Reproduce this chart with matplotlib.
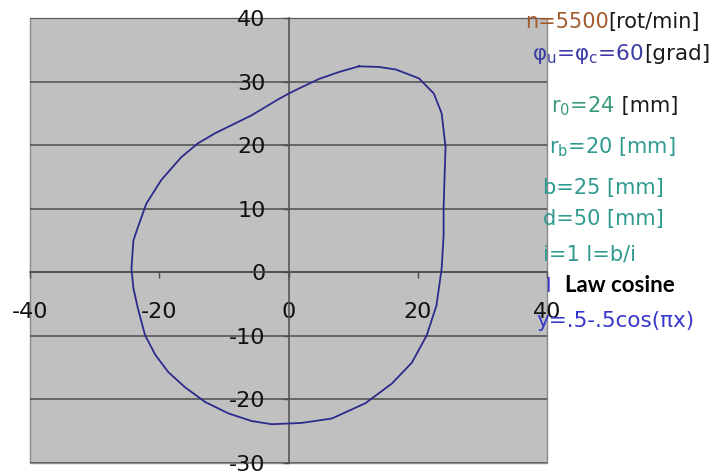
import matplotlib
matplotlib.use("Agg")
import matplotlib.pyplot as plt
from matplotlib.ticker import FixedLocator

plt.rcParams['font.family'] = ['DejaVu Sans']
plt.rcParams['mathtext.fontset'] = 'dejavusans'

# Cam profile points (x, y) in mm
profile_x = [10.9, 7.8, 4.7, 1.6, 0.0, -1.6, -5.7, -11.3, -14.0, -16.6, -19.7,
             -22.0, -23.3, -24.0, -24.3, -24.0, -23.3, -22.2, -20.6, -18.6, -16.0,
             -12.9, -9.3, -5.7, -2.6, 2.0, 6.7, 11.9, 16.0, 19.1, 21.4, 22.9,
             23.7, 24.0, 24.0, 24.3, 23.7, 22.5, 20.2, 16.6, 14.0, 10.9]
profile_y = [32.4, 31.5, 30.4, 28.9, 28.1, 27.2, 24.7, 21.9, 20.3, 18.1, 14.5,
             10.8, 7.1, 5.0, 0.6, -2.5, -5.7, -9.9, -13.0, -15.7, -18.1,
             -20.4, -22.2, -23.4, -23.9, -23.7, -23.0, -20.6, -17.5, -14.2, -9.9, -5.2,
             0.6, 5.8, 10.2, 19.7, 25.0, 28.1, 30.5, 31.9, 32.3, 32.4]

x_ticks = [-40, -20, 0, 20, 40]
y_ticks = [-30, -20, -10, 0, 10, 20, 30, 40]

W, H = 714, 475
fig = plt.figure(figsize=(W / 100, H / 100), dpi=100)
fig.patch.set_facecolor('white')

ax = fig.add_axes([30 / W, (H - 463) / H, 517 / W, 445 / H])
ax.set_facecolor('#c0c0c0')
ax.patch.set_edgecolor('#8a8a8a')
ax.patch.set_linewidth(1.0)

ax.plot(profile_x, profile_y, color='#2b2b8c', lw=1.3, zorder=3)

ax.set_xlim(-40, 40)
ax.set_ylim(-30, 40)
ax.xaxis.set_major_locator(FixedLocator(x_ticks))
ax.yaxis.set_major_locator(FixedLocator(y_ticks))
ax.set_xticklabels([str(v) for v in x_ticks])
ax.set_yticklabels([str(v) for v in y_ticks])

for v in y_ticks:
    ax.axhline(v, color='#4d4d4d', lw=1.1, zorder=1)

for s in ['top', 'right']:
    ax.spines[s].set_visible(False)
ax.spines['left'].set_position(('data', 0))
ax.spines['bottom'].set_position(('data', 0))
ax.spines['left'].set_color('#4d4d4d')
ax.spines['bottom'].set_color('#4d4d4d')
ax.spines['left'].set_linewidth(1.1)
ax.spines['bottom'].set_linewidth(1.1)

ax.tick_params(axis='y', direction='out', length=4.5, width=1, color='#4d4d4d',
               pad=12, labelsize=16, labelcolor='#111111')
ax.tick_params(axis='x', direction='out', length=4.5, width=1, color='#4d4d4d',
               pad=17, labelsize=16, labelcolor='#111111')

# Annotation text on the right
renderer = fig.canvas.get_renderer()


def write_line(x_px, base_px, pieces, size=15, **kw):
    x = x_px
    for s, c in pieces:
        t = fig.text(x / W, 1 - base_px / H, s, color=c, fontsize=size,
                     va='baseline', ha='left', **kw)
        bb = t.get_window_extent(renderer)
        x = bb.x1


brown = '#a35a2c'
blue = '#3b3ba6'
green = '#3a9a78'
teal = '#2e9a90'
black = '#1a1a1a'

write_line(525, 28, [('n=5500', brown), ('[rot/min]', black)])
write_line(532, 60, [(r'φ$_\mathrm{u}$=φ$_\mathrm{c}$=60', blue), ('[grad]', black)], size=15.5)
write_line(551, 112, [(r'r$_0$=24', green), (' [mm]', black)])
write_line(549, 153, [(r'r$_\mathrm{b}$=20 [mm]', teal)])
write_line(543, 194, [('b=25 [mm]', teal)])
write_line(543, 225, [('d=50 [mm]', teal)])
write_line(543, 260, [('i=1 l=b/i', teal)])
write_line(545, 292, [('l', '#3333cc')], size=14)
write_line(565, 292, [('Law cosine', 'black')], size=16, family=['Lato', 'DejaVu Sans'],
           fontweight='bold')
write_line(536, 327, [('y=.5-.5cos(πx)', '#3838cc')], size=15.5)

fig.savefig('out.png', dpi=100, facecolor='white')
